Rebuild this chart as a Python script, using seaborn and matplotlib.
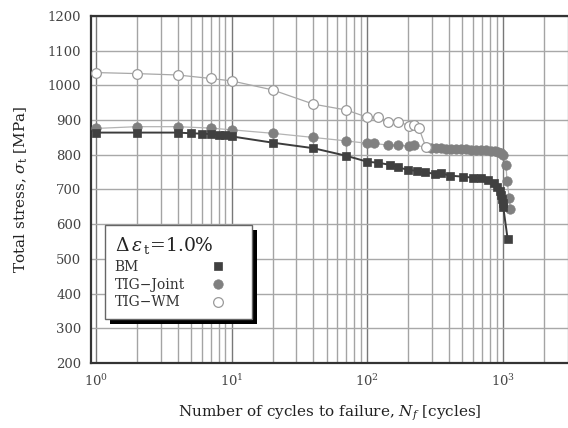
import matplotlib
matplotlib.use("Agg")
import matplotlib.pyplot as plt
import seaborn as sns
import pandas as pd
from matplotlib.ticker import LogLocator, MultipleLocator, NullFormatter
from matplotlib.patches import Rectangle

# ---- data ----
bm_cycles = [1, 2, 4, 5, 6, 7, 8, 9, 10, 20, 40, 70, 100, 120, 147, 169, 200, 230, 264,
             313, 351, 403, 505, 598, 688, 769, 862, 900, 940, 964, 980, 991, 1000, 1079]
bm_stress = [864, 864, 864, 862, 861, 860, 858, 856, 853, 835, 819, 797, 780, 777, 771, 764,
             756, 754, 750, 745, 747, 740, 737, 734, 732, 727, 718, 708, 695, 685, 672, 660, 650, 556]

joint_cycles = [1, 2, 4, 7, 10, 20, 40, 70, 100, 111, 141, 169, 202, 221, 296, 320, 351, 380,
                415, 450, 490, 530, 581, 630, 688, 750, 813, 870, 911, 960, 991, 1048, 1066,
                1109, 1127]
joint_stress = [876, 881, 881, 877, 872, 862, 850, 840, 833, 833, 828, 828, 825, 828, 819, 819,
                819, 818, 817, 817, 816, 816, 814, 814, 814, 813, 812, 811, 809, 806, 799, 771,
                725, 675, 644]

wm_cycles = [1, 2, 4, 7, 10, 20, 40, 70, 100, 120, 141, 169, 202, 221, 240, 269]
wm_stress = [1037, 1034, 1030, 1020, 1013, 987, 946, 929, 908, 910, 895, 895, 884, 886, 876, 822]

series_labels = ["BM", "TIG\u2212Joint", "TIG\u2212WM"]
legend_title = r"$\mathit{\Delta\,\varepsilon}_{\,\mathrm{t}}$=1.0%"
x_label = r"Number of cycles to failure, $N_f$ [cycles]"
y_label = r"Total stress, $\sigma_{\mathrm{t}}$ [MPa]"

sns.set_style("white")
plt.rcParams.update({
    "font.family": ["DejaVu Serif"],
    "mathtext.fontset": "dejavuserif",
})

W, H = 568, 428
fig = plt.figure(figsize=(W / 100, H / 100), dpi=100)
ax = fig.add_axes([91 / W, 1 - 363 / H, 477 / W, 347 / H])

df_bm = pd.DataFrame({"N": bm_cycles, "S": bm_stress})
df_joint = pd.DataFrame({"N": joint_cycles, "S": joint_stress})
df_wm = pd.DataFrame({"N": wm_cycles, "S": wm_stress})

sns.lineplot(data=df_joint, x="N", y="S", ax=ax, estimator=None, sort=False,
             color="#b4b4b4", lw=0.9, marker="o", markersize=6.8,
             markerfacecolor="#808080", markeredgecolor="#808080", markeredgewidth=0.5,
             label=series_labels[1], zorder=3)
sns.lineplot(data=df_bm, x="N", y="S", ax=ax, estimator=None, sort=False,
             color="#3c3c3c", lw=1.4, marker="s", markersize=6.4,
             markerfacecolor="#404040", markeredgecolor="#404040", markeredgewidth=0.5,
             label=series_labels[0], zorder=4)
sns.lineplot(data=df_wm, x="N", y="S", ax=ax, estimator=None, sort=False,
             color="#a8a8a8", lw=0.9, marker="o", markersize=7.0,
             markerfacecolor="white", markeredgecolor="#9a9a9a", markeredgewidth=0.9,
             label=series_labels[2], zorder=5)

ax.set_xscale("log")
ax.set_xlim(0.92, 3000)
ax.set_ylim(200, 1200)
ax.yaxis.set_major_locator(MultipleLocator(100))
ax.yaxis.set_minor_locator(MultipleLocator(50))
ax.xaxis.set_major_locator(LogLocator(base=10, numticks=10))
ax.xaxis.set_minor_locator(LogLocator(base=10, subs=range(2, 10), numticks=30))
ax.xaxis.set_minor_formatter(NullFormatter())

ax.grid(which="major", axis="y", color="#a8a8a8", lw=1.0)
ax.grid(which="major", axis="x", color="#787878", lw=1.0)
ax.grid(which="minor", axis="x", color="#a4a4a4", lw=1.0)
ax.set_axisbelow(True)

ax.tick_params(which="both", direction="in", top=False, right=False,
               colors="#333333", labelcolor="#444444", labelsize=9.5)
ax.tick_params(which="major", length=5, width=1.0, pad=7)
ax.tick_params(which="minor", length=3, width=0.8)

for side in ["left", "bottom", "top"]:
    ax.spines[side].set_color("#333333")
    ax.spines[side].set_linewidth(1.6)
ax.spines["right"].set_visible(False)

ax.set_xlabel(x_label, fontsize=11, color="#222222", labelpad=11)
ax.set_ylabel(y_label, fontsize=11, color="#222222", labelpad=13)

handles, labels = ax.get_legend_handles_labels()
order = [labels.index(l) for l in series_labels]
leg = ax.legend([handles[i] for i in order], [labels[i] for i in order],
                title=legend_title, loc="upper left",
                bbox_to_anchor=(14 / 477, 1 - (225 - 16) / 347),
                bbox_transform=ax.transAxes, borderaxespad=0,
                markerfirst=False, numpoints=1, handlelength=3.5, handletextpad=0,
                borderpad=0.7, labelspacing=0.28, fontsize=10, title_fontsize=13.5,
                alignment="left", frameon=True, fancybox=False, framealpha=1,
                edgecolor="#666666")
leg.get_frame().set_linewidth(1.0)
leg.set_zorder(10)
for t in leg.get_texts():
    t.set_color("#333333")
leg.get_title().set_color("#222222")
for h in leg.legend_handles:
    h.set_linestyle("None")

fig.canvas.draw()
for col in leg._legend_handle_box.get_children():
    for item in col.get_children():
        item.mode = "expand"
        item.width = 128
fig.canvas.draw()

bb = leg.get_window_extent().transformed(ax.transAxes.inverted())
dx = 5 / 477
dy = 5 / 347
ax.add_patch(Rectangle((bb.x0 + dx, bb.y0 - dy), bb.width, bb.height,
                       transform=ax.transAxes, facecolor="black", edgecolor="none",
                       zorder=9))

fig.savefig("out.png", dpi=100)
